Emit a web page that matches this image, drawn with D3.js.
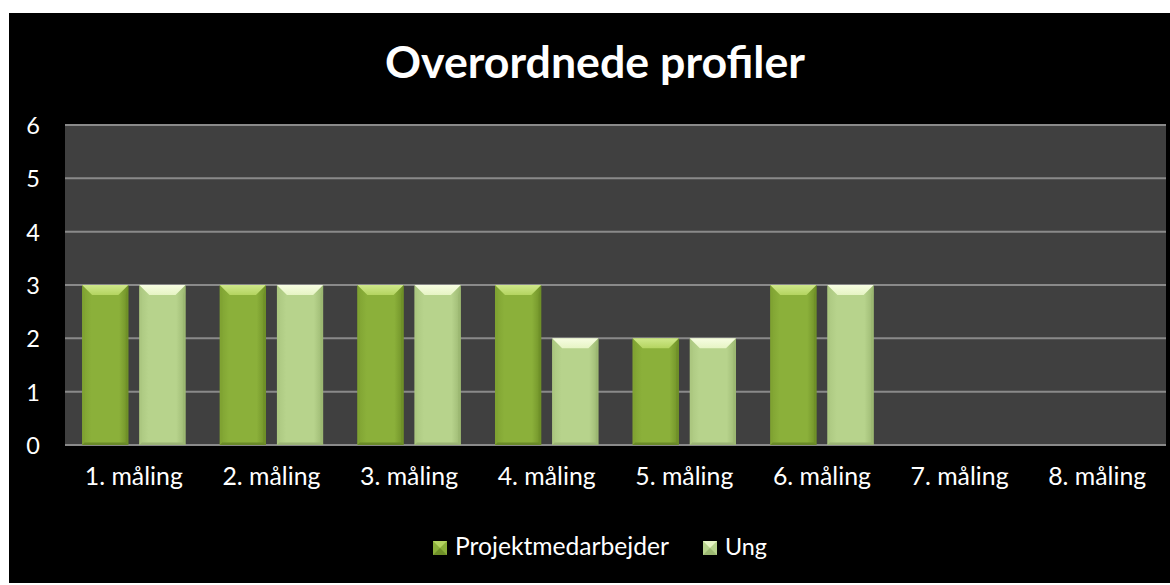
<!DOCTYPE html>
<html><head><meta charset="utf-8">
<script src="https://cdn.jsdelivr.net/npm/d3@7"></script>
<style>body{margin:0;background:#fff}svg{display:block}text{font-family:Lato,"Open Sans",sans-serif}</style>
</head><body><svg id="c" width="1170" height="585"></svg>
<script>
const categories = ["1. måling","2. måling","3. måling","4. måling","5. måling","6. måling","7. måling","8. måling"];
const seriesNames = ["Projektmedarbejder","Ung"];
const projektmedarbejder = [3,3,3,3,2,3,0,0];
const ung = [3,3,3,2,2,3,0,0];
const yTicks = [0,1,2,3,4,5,6];
const titleText = "Overordnede profiler";

const svg = d3.select("#c");
const W=1170,H=585;
svg.append("rect").attr("x",9).attr("y",13).attr("width",W-9).attr("height",570).attr("fill","#000");

const m={l:65,r:1166,t:125,b:445};
const x=d3.scaleBand().domain(categories).range([m.l,m.r]).paddingInner(0).paddingOuter(0);
const y=d3.scaleLinear().domain([0,6]).range([m.b,m.t]);
const inner=d3.scaleBand().domain(seriesNames).range([0,x.bandwidth()]).paddingInner(0.193).paddingOuter(0.3);

svg.append("rect").attr("x",m.l).attr("y",m.t).attr("width",m.r-m.l).attr("height",m.b-m.t).attr("fill","#404040");

const grid=svg.append("g");
grid.selectAll("line").data(yTicks).join("line")
  .attr("x1",m.l).attr("x2",m.r).attr("y1",d=>y(d)).attr("y2",d=>y(d))
  .attr("stroke","#8a8a8a").attr("stroke-width",2);

const yAxis=d3.axisLeft(y).tickValues(yTicks).tickSize(0).tickFormat(d3.format("d"));
const ya=svg.append("g").attr("transform","translate(33,0)").call(yAxis);
ya.select(".domain").remove();
ya.selectAll("text").attr("fill","#fff").style("font-size","23.5px").attr("text-anchor","middle").attr("x",0).attr("dy","0.36em");

const xAxis=d3.axisBottom(x).tickSize(0);
const xa=svg.append("g").attr("transform",`translate(0,${m.b})`).call(xAxis);
xa.select(".domain").remove();
xa.selectAll("text").attr("fill","#fff").style("font-size","20.5px").attr("y",40).attr("dy",0);

const defs=svg.append("defs");
const pal={
  "Projektmedarbejder":{main:"#8bb03a",left:"#7fa232",right:"#6f9028",top:"#b4d460",topHi:"#cfe88a",bottom:"#6a8a28"},
  "Ung":{main:"#b7d38c",left:"#abc780",right:"#9cb872",top:"#e6f4c4",topHi:"#f7fde2",bottom:"#9bb476"}
};
Object.entries(pal).forEach(([k,c],i)=>{
  const g=defs.append("linearGradient").attr("id","g"+i).attr("x1",0).attr("x2",1).attr("y1",0).attr("y2",0);
  g.append("stop").attr("offset","0%").attr("stop-color",c.left);
  g.append("stop").attr("offset","20%").attr("stop-color",c.main);
  g.append("stop").attr("offset","80%").attr("stop-color",c.main);
  g.append("stop").attr("offset","100%").attr("stop-color",c.right);
  const t=defs.append("linearGradient").attr("id","t"+i).attr("x1",0).attr("x2",0).attr("y1",0).attr("y2",1);
  t.append("stop").attr("offset","0%").attr("stop-color",c.topHi);
  t.append("stop").attr("offset","100%").attr("stop-color",c.top);
});

const bars=[];
categories.forEach((cat,ci)=>{
  [projektmedarbejder,ung].forEach((arr,si)=>{
    if(arr[ci]>0) bars.push({cat,si,v:arr[ci],name:seriesNames[si]});
  });
});
const bg=svg.append("g");
bars.forEach(b=>{
  const x0=x(b.cat)+inner(b.name), w=inner.bandwidth();
  const y0=y(b.v), y1=y(0), bev=10;
  const c=pal[b.name];
  const g=bg.append("g");
  g.append("rect").attr("x",x0).attr("y",y0).attr("width",w).attr("height",y1-y0).attr("fill",`url(#g${b.si})`);
  g.append("polygon").attr("points",[[x0,y0],[x0+2.5,y0+bev],[x0+2.5,y1-2.5],[x0,y1]].join(" ")).attr("fill",c.left).attr("opacity",0.8);
  g.append("polygon").attr("points",[[x0+w,y0],[x0+w-2.5,y0+bev],[x0+w-2.5,y1-2.5],[x0+w,y1]].join(" ")).attr("fill",c.right);
  g.append("polygon").attr("points",[[x0,y1],[x0+2.5,y1-2.5],[x0+w-2.5,y1-2.5],[x0+w,y1]].join(" ")).attr("fill",c.bottom);
  g.append("polygon").attr("points",[[x0,y0],[x0+w,y0],[x0+w-bev,y0+bev],[x0+bev,y0+bev]].join(" ")).attr("fill",`url(#t${b.si})`);
});

function fit(sel,target){
  const n=sel.node(); const w=n.getComputedTextLength();
  const fs=parseFloat(sel.style("font-size"));
  sel.style("font-size",(fs*target/w)+"px");
}
const title=svg.append("text").attr("x",595).attr("y",78).attr("text-anchor","middle")
  .attr("fill","#fff").style("font-weight","bold").style("font-size","40px").text(titleText);
fit(title,420);
xa.selectAll("text").each(function(){fit(d3.select(this),98);});

const legend=svg.append("g");
const lx=[433,703];
seriesNames.forEach((n,i)=>{
  const c=pal[n];
  const gx=lx[i], gy=541, s=14;
  legend.append("rect").attr("x",gx).attr("y",gy).attr("width",s).attr("height",s).attr("fill",c.main);
  legend.append("polygon").attr("points",[[gx,gy],[gx+s,gy],[gx+s/2,gy+s/2]].join(" ")).attr("fill",c.top);
  legend.append("polygon").attr("points",[[gx,gy+s],[gx+s,gy+s],[gx+s/2,gy+s/2]].join(" ")).attr("fill",c.right);
  const t=legend.append("text").attr("x",gx+22).attr("y",gy+s-0.5).attr("fill","#fff").style("font-size","20.5px").text(n);
  fit(t,i==0?214:42);
});
</script></body></html>
